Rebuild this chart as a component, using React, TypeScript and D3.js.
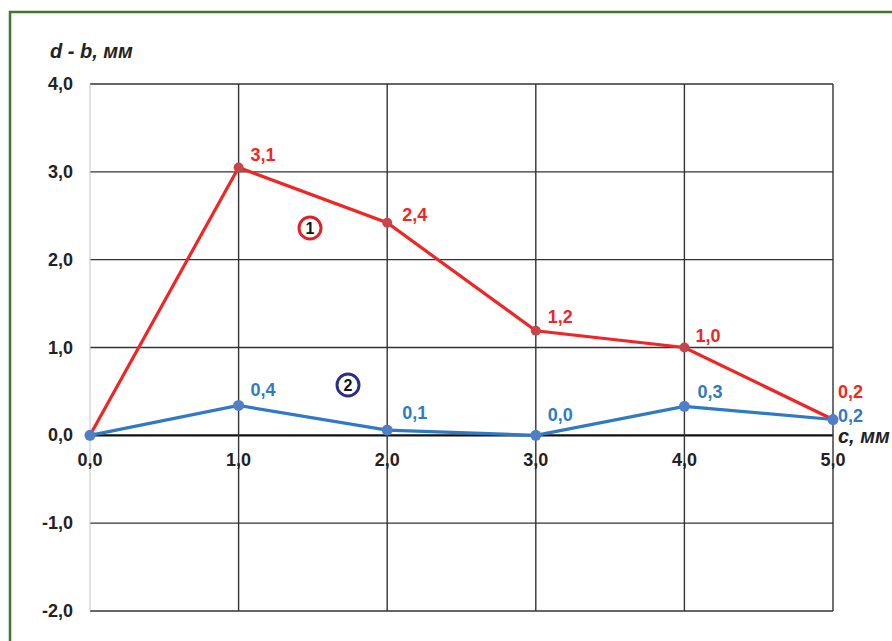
import React from "react";
import * as d3 from "d3";

const xValues = [0, 1, 2, 3, 4, 5];
const series1 = [0, 3.05, 2.42, 1.19, 1.0, 0.18];
const series2 = [0, 0.34, 0.06, 0.0, 0.33, 0.18];
const labels1 = ["", "3,1", "2,4", "1,2", "1,0", "0,2"];
const labels2 = ["", "0,4", "0,1", "0,0", "0,3", "0,2"];
const yTicks = [-2, -1, 0, 1, 2, 3, 4];
const xTicks = [0, 1, 2, 3, 4, 5];

// label placement offsets (layout only)
const off1: [number, number][] = [[0, 0], [12, -6], [15, -2], [12, -8], [11, -6], [5, -22]];
const off2: [number, number][] = [[0, 0], [12, -9], [15, -11], [12, -14], [13, -8], [5, 2]];

const W = 892, H = 641;
const left = 90, right = 833, top = 84, bottom = 611;
const fmt = (v: number) => v.toFixed(1).replace(".", ",");
const font = "Liberation Sans, Arial, sans-serif";

export default function App() {
  const x = d3.scaleLinear().domain([0, 5]).range([left, right]);
  const y = d3.scaleLinear().domain([-2, 4]).range([bottom, top]);
  const line = d3.line<number>().x((_, i) => x(xValues[i])).y((d) => y(d));
  const red = "#ee2626";
  const blue = "#2e7bc4";
  return (
    <svg width={W} height={H} style={{ position: "absolute", left: 0, top: 0, background: "#fff" }}>
      <rect x={10} y={12} width={W + 20} height={H + 20} fill="#fff" stroke="#3f7a2a" strokeWidth={2.5} />
      {yTicks.map((t) => (
        <line key={"y" + t} x1={left} x2={right} y1={y(t)} y2={y(t)} stroke={t === 0 ? "#111" : "#333"} strokeWidth={t === 0 ? 2.2 : 1.4} />
      ))}
      {xTicks.map((t) => (
        <line key={"x" + t} x1={x(t)} x2={x(t)} y1={top} y2={bottom} stroke={t === 0 ? "#c4c4c4" : "#333"} strokeWidth={t === 0 ? 1 : 1.4} />
      ))}
      {yTicks.map((t) => (
        <text key={"yl" + t} x={left - 17} y={y(t) + 6} textAnchor="end" fontFamily={font} fontWeight="bold" fontSize={18} fill="#222">{fmt(t)}</text>
      ))}
      {xTicks.map((t) => (
        <text key={"xl" + t} x={x(t)} y={y(0) + 31} textAnchor="middle" fontFamily={font} fontWeight="bold" fontSize={18} fill="#222">{fmt(t)}</text>
      ))}
      <text x={50} y={58} fontFamily={font} fontWeight="bold" fontStyle="italic" fontSize={20} fill="#222">d - b, мм</text>
      <text x={838} y={443} fontFamily={font} fontWeight="bold" fontStyle="italic" fontSize={20} fill="#222">c, мм</text>
      <path d={line(series1) || ""} fill="none" stroke={red} strokeWidth={3.2} />
      <path d={line(series2) || ""} fill="none" stroke={blue} strokeWidth={3.2} />
      {series1.map((v, i) => (
        <circle key={"r" + i} cx={x(xValues[i])} cy={y(v)} r={5} fill="#c8454a" />
      ))}
      {series2.map((v, i) => (
        <circle key={"b" + i} cx={x(xValues[i])} cy={y(v)} r={5.5} fill="#4f7fc4" />
      ))}
      {series1.map((v, i) => labels1[i] && (
        <text key={"rl" + i} x={x(xValues[i]) + off1[i][0]} y={y(v) + off1[i][1]} fontFamily={font} fontWeight="bold" fontSize={18} fill={red}>{labels1[i]}</text>
      ))}
      {series2.map((v, i) => labels2[i] && (
        <text key={"bl" + i} x={x(xValues[i]) + off2[i][0]} y={y(v) + off2[i][1]} fontFamily={font} fontWeight="bold" fontSize={18} fill={blue}>{labels2[i]}</text>
      ))}
      <circle cx={310} cy={228} r={11} fill="#fff" stroke="#e0202a" strokeWidth={3} />
      <text x={310} y={234} textAnchor="middle" fontFamily={font} fontWeight="bold" fontSize={16} fill="#111">1</text>
      <circle cx={348} cy={385} r={11} fill="#fff" stroke="#2c2f8a" strokeWidth={3} />
      <text x={348} y={391} textAnchor="middle" fontFamily={font} fontWeight="bold" fontSize={16} fill="#111">2</text>
    </svg>
  );
}
